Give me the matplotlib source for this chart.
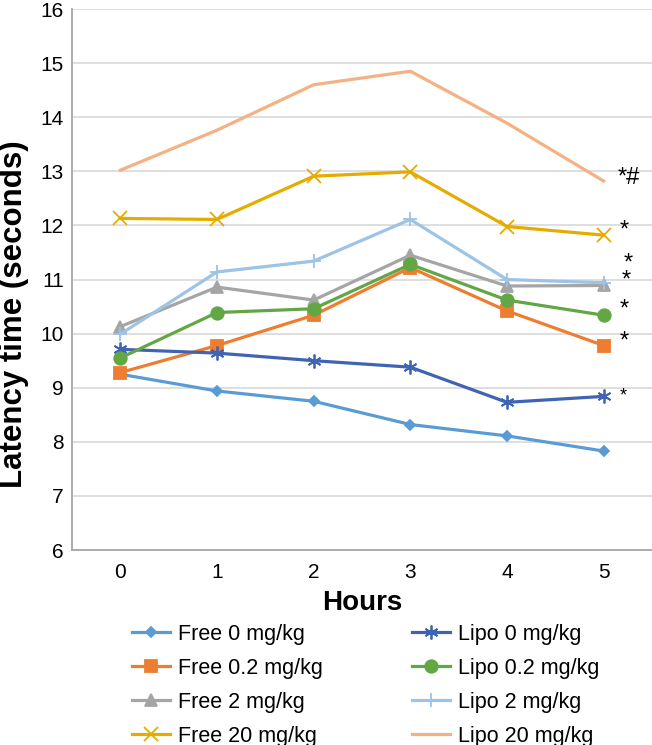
import numpy as np
import matplotlib
matplotlib.use('Agg')
import matplotlib.pyplot as plt

plt.rcParams['font.family'] = ['Liberation Sans', 'DejaVu Sans']

hours = [0, 1, 2, 3, 4, 5]

free_0 = [9.25, 8.94, 8.75, 8.32, 8.11, 7.83]
free_02 = [9.28, 9.78, 10.34, 11.22, 10.42, 9.78]
free_2 = [10.13, 10.86, 10.62, 11.45, 10.88, 10.89]
free_20 = [12.13, 12.11, 12.91, 12.99, 11.98, 11.82]
lipo_0 = [9.71, 9.64, 9.50, 9.38, 8.73, 8.84]
lipo_02 = [9.55, 10.39, 10.46, 11.28, 10.62, 10.34]
lipo_2 = [9.99, 11.14, 11.34, 12.11, 11.00, 10.94]
lipo_20 = [13.02, 13.76, 14.60, 14.85, 13.89, 12.82]

labels = ['Free 0 mg/kg', 'Free 0.2 mg/kg', 'Free 2 mg/kg', 'Free 20 mg/kg',
          'Lipo 0 mg/kg', 'Lipo 0.2 mg/kg', 'Lipo 2 mg/kg', 'Lipo 20 mg/kg']

# significance marks next to the last point
sig_text = ['*#', '*', '*', '*', '*', '*', '*']
sig_y = [12.96, 11.99, 11.38, 11.07, 10.52, 9.94, 8.93]
sig_x = [5.14, 5.17, 5.21, 5.19, 5.17, 5.17, 5.17]
sig_size = [17, 17, 17, 17, 17, 17, 13]


def main():
    fig = plt.figure(figsize=(6.52, 7.45), dpi=100)
    ax = fig.add_axes([0.1104, 0.2617, 0.8896, 0.7262])

    series = [free_0, free_02, free_2, free_20, lipo_0, lipo_02, lipo_2, lipo_20]
    colors = ['#5B9BD5', '#ED7D31', '#A5A5A5', '#E5AC00',
              '#3F64B4', '#62A744', '#9DC3E6', '#F4B183']
    markers = ['D', 's', '^', 'x', (6, 2, 0), 'o', '+', None]
    msizes = [5, 8, 8, 10, 10, 9, 10, 0]

    for y, c, m, ms, lab in zip(series, colors, markers, msizes, labels):
        ax.plot(hours, y, color=c, lw=2.3, marker=m, markersize=ms,
                markeredgecolor=c, markerfacecolor=c, markeredgewidth=1.3,
                label=lab, zorder=3)

    for t, x, y, s in zip(sig_text, sig_x, sig_y, sig_size):
        ax.text(x, y - 0.08, t, fontsize=s, ha='left', va='center', color='black')

    ax.set_xlim(-0.5, 5.5)
    ax.set_ylim(6, 16)
    ax.set_xticks(hours)
    ax.set_yticks(np.arange(6, 17, 1))
    ax.tick_params(length=0, labelsize=15)
    ax.tick_params(axis='y', pad=6)
    ax.tick_params(axis='x', pad=9)
    ax.grid(axis='y', color='#D9D9D9', lw=1.2)
    ax.set_axisbelow(True)
    for s in ['top', 'right']:
        ax.spines[s].set_visible(False)
    for s in ['left', 'bottom']:
        ax.spines[s].set_color('#A6A6A6')
        ax.spines[s].set_linewidth(1.3)

    ax.set_xlabel('Hours', fontsize=20, fontweight='bold', labelpad=6)
    ax.set_ylabel('Latency time (seconds)', fontsize=22.5, fontweight='bold')
    ax.yaxis.set_label_coords(-0.074, 0.436)

    fig.legend(loc='upper left', bbox_to_anchor=(0.2025, 0.1624), ncol=2,
               frameon=False, fontsize=15.5, handlelength=1.77, borderpad=0,
               borderaxespad=0, columnspacing=4.15, labelspacing=0.6,
               handletextpad=0.35)

    fig.savefig('out.png', dpi=100)


if __name__ == '__main__':
    main()
